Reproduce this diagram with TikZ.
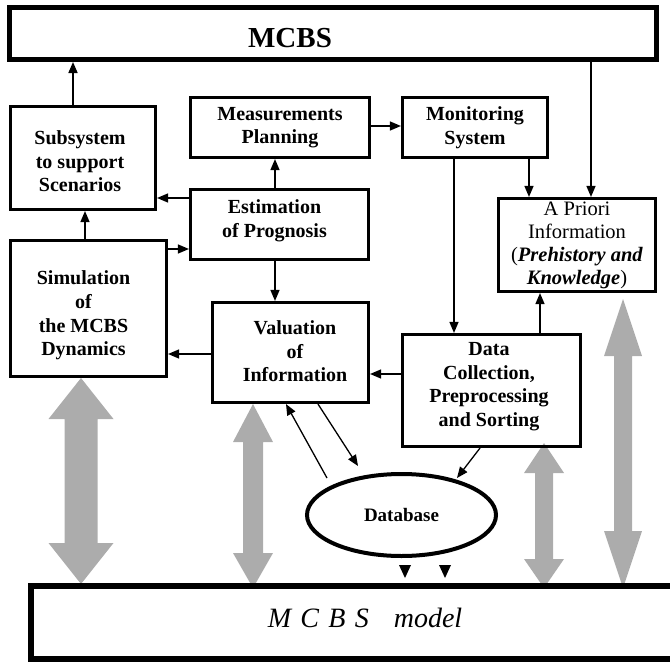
\documentclass[tikz,border=0pt]{standalone}
\usepackage{fontspec}
\setmainfont{Liberation Serif}
\usetikzlibrary{arrows.meta,shapes.geometric}
\definecolor{arrgray}{RGB}{172,172,172}
\newcommand\grayarrow[7]{%
  \fill[arrgray] (#1,#2) -- (#1+#6,#3) -- (#1+#7,#3) -- (#1+#7,#4) -- (#1+#6,#4) -- (#1,#5)
     -- (#1-#6,#4) -- (#1-#7,#4) -- (#1-#7,#3) -- (#1-#6,#3) -- cycle;}
\tikzset{
  box/.style={draw, rectangle, line width=2.7pt, inner sep=0pt, align=center,
    font=\bfseries\fontsize{20}{23.5}\selectfont},
  lbl/.style={inner sep=0pt, align=center, font=\bfseries\fontsize{20}{23.6}\selectfont},
  arr/.style={line width=1.3pt, -{Triangle[length=11pt,width=9pt]}},
}
\begin{document}
\begin{tikzpicture}[x=1pt,y=-1pt]
\path[use as bounding box, clip] (0,0) rectangle (670,662);
% gray double arrows
\grayarrow{81}{378}{419}{543}{584}{32.5}{16.5}
\grayarrow{253}{404}{442}{553}{588}{20}{10}
\grayarrow{544}{443}{473}{559}{588}{20}{9}
\grayarrow{623}{299}{356}{531}{588}{19}{9}
% boxes
\node[box, line width=5pt, minimum width=647pt, minimum height=52pt] (mcbs) at (333,33.5) {};
\node[font=\bfseries\fontsize{29}{32}\selectfont, inner sep=0pt] (mcbsT) at (290,38) {MCBS};
\node[box, minimum width=145.4pt, minimum height=103.4pt,
  label={[lbl, xshift=-3pt, yshift=-3.5pt]center:{Subsystem\\to support\\Scenarios}}] (sub) at (83,158) {};
\node[box, minimum width=179.4pt, minimum height=60.4pt] (mp) at (280,127.5) {Measurements\\Planning};
\node[box, minimum width=145.4pt, minimum height=60.4pt] (mon) at (475,127.5) {Monitoring\\System};
\node[box, minimum width=178.4pt, minimum height=70.4pt,
  label={[lbl, xshift=-5pt, yshift=3.5pt]center:{Estimation\\of Prognosis}}] (est) at (279.5,224.5) {};
\node[box, minimum width=156.4pt, minimum height=136.4pt,
  label={[lbl, xshift=-5pt, yshift=-7pt]center:{Simulation\\of\\the MCBS\\Dynamics}}] (sim) at (88.5,308.5) {};
\node[box, minimum width=156.4pt, minimum height=100.4pt,
  label={[lbl, xshift=4.5pt, yshift=1pt]center:{Valuation\\of\\Information}}] (val) at (290.5,352.5) {};
\node[box, minimum width=157.4pt, minimum height=93.4pt, font=\mdseries\fontsize{20.5}{23}\selectfont] (apr) at (577,245)
  {A Priori\\Information\\(\textbf{\textit{Prehistory and}}\\\textbf{\textit{Knowledge}})};
\node[box, minimum width=178.4pt, minimum height=112.4pt,
  label={[lbl, xshift=-2.5pt, yshift=4pt]center:{Data\\Collection,\\Preprocessing\\and Sorting}}] (dat) at (491.5,390.5) {};
\node[draw, ellipse, line width=4pt, minimum width=189pt, minimum height=82pt, inner sep=0pt,
  font=\bfseries\fontsize{19}{22}\selectfont] (db) at (401.5,515) {Database};
\node[draw, line width=6pt, minimum width=669pt, minimum height=73pt, inner sep=0pt] (mod) at (365.5,622.5) {};
\node[font=\itshape\fontsize{28}{32}\selectfont, inner sep=0pt] (modT) at (365,618)
  {M\hspace{9.3pt}C\hspace{9.3pt}B\hspace{9.3pt}S\hspace{25pt}model};
% helper coordinates
\coordinate (cA) at (73,0);
\coordinate (cB) at (85,0);
\coordinate (cC) at (275,0);
\coordinate (cD) at (454,0);
\coordinate (cE) at (529,0);
\coordinate (cF) at (591,0);
\coordinate (cG) at (540,0);
\coordinate (cH) at (286,0);
\coordinate (cI) at (318,0);
\coordinate (cJ) at (480,0);
\coordinate (rA) at (0,198);
\coordinate (rB) at (0,126);
\coordinate (rC) at (0,249);
\coordinate (rD) at (0,354);
\coordinate (rE) at (0,374);
\coordinate (d1) at (327,478);
\coordinate (d2) at (358,466);
\coordinate (d3) at (457,478);
% connectors
\draw[arr, line width=1.6pt] (sub.north -| cA) -- (mcbs.south -| cA);
\draw[arr] (est.west |- rA) -- (sub.east |- rA);
\draw[arr] (est.north -| cC) -- (mp.south -| cC);
\draw[arr] (mp.east |- rB) -- (mon.west |- rB);
\draw[arr] (sim.north -| cB) -- (sub.south -| cB);
\draw[arr] (sim.east |- rC) -- (est.west |- rC);
\draw[arr] (est.south -| cC) -- (val.north -| cC);
\draw[arr] (val.west |- rD) -- (sim.east |- rD);
\draw[arr] (dat.west |- rE) -- (val.east |- rE);
\draw[arr] (mon.south -| cD) -- (dat.north -| cD);
\draw[arr] (mon.south -| cE) -- (apr.north -| cE);
\draw[arr] (mcbs.south -| cF) -- (apr.north -| cF);
\draw[arr] (dat.north -| cG) -- (apr.south -| cG);
\draw[arr] (d1) -- (val.south -| cH);
\draw[arr] (val.south -| cI) -- (d2);
\draw[arr] (dat.south -| cJ) -- (d3);
% small arrowheads under the database
\fill (399,565) -- (411,565) -- (405,578) -- cycle;
\fill (439,565) -- (451,565) -- (445,578) -- cycle;
\end{tikzpicture}
\end{document}
